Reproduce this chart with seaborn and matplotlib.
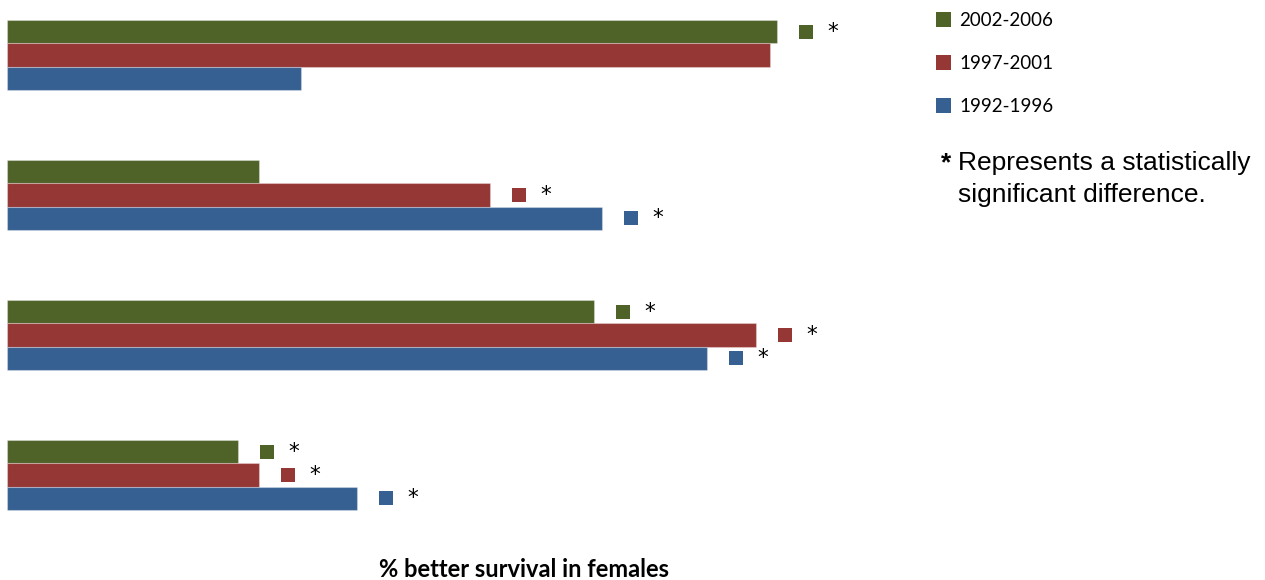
import matplotlib
matplotlib.use("Agg")
import matplotlib.pyplot as plt
from matplotlib.patches import Patch
import pandas as pd
import seaborn as sns

#%% data
groups  = ["Group A", "Group B", "Group C", "Group D"]
periods = ["2002-2006", "1997-2001", "1992-1996"]

val_0206 = [7.70, 2.52, 5.87, 2.31]
val_9701 = [7.63, 4.83, 7.49, 2.52]
val_9296 = [2.94, 5.95, 7.00, 3.50]

sig_0206 = [True, False, True, True]
sig_9701 = [False, True, True, True]
sig_9296 = [False, True, True, True]

colors = ["#4F6228", "#953735", "#376092"]

#%% long table for seaborn
vals = [val_0206, val_9701, val_9296]
sigs = [sig_0206, sig_9701, sig_9296]
rows = []
for p, v in zip(periods, vals):
    for g, x in zip(groups, v):
        rows.append({"group": g, "period": p, "value": x})
df = pd.DataFrame(rows)

#%% plot
sns.set_style("white")
plt.rcParams["text.color"] = "black"
W, H = 1265, 580
fig = plt.figure(figsize=(W/100, H/100), dpi=100)
ax = fig.add_axes([7/W, 40/H, 893/W, 540/H])

sns.barplot(data=df, x="value", y="group", hue="period",
            order=groups, hue_order=periods, palette=colors,
            saturation=1, width=0.5, orient="h", legend=False,
            edgecolor=(1, 1, 1, 0.3), linewidth=0.8, ax=ax)

# significance squares and asterisks after the bars
for i, cont in enumerate(ax.containers):
    for j, bar in enumerate(cont):
        if not sigs[i][j]:
            continue
        yc = bar.get_y() + bar.get_height()/2
        xe = bar.get_width()
        ax.scatter(xe + 0.29, yc, marker="s", s=110, color=colors[i],
                   linewidths=0, clip_on=False, zorder=3)
        ax.text(xe + 0.56, yc, "*", ha="center", va="center",
                fontsize=15.5, family="DejaVu Sans", color="black")

ax.set_xlim(0, 8.93)
ax.set_ylim(3 + 65/140, -55/140)
ax.axis("off")

# legend
handles = [Patch(facecolor=c, edgecolor="none") for c in colors]
fig.legend(handles, periods, loc="upper left",
           bbox_to_anchor=(936/W, 1 - 12/H), frameon=False,
           prop={"family": "Lato", "size": 13.5}, labelcolor="black",
           handlelength=0.8, handleheight=0.8, handletextpad=0.43,
           labelspacing=1.39, borderpad=0, borderaxespad=0)

# note
fig.text(946/W, 1 - 163/H, "*", ha="center", va="center", color="black",
         fontsize=19, family="Liberation Sans", fontweight="bold")
fig.text(958/W, 1 - 170/H, "Represents a statistically", color="black",
         va="baseline", fontsize=19, family="Liberation Sans")
fig.text(958/W, 1 - 202/H, "significant difference.", color="black",
         va="baseline", fontsize=19, family="Liberation Sans")

# axis title
fig.text(524/W, 1 - 577/H, "% better survival in females", color="black",
         ha="center", va="baseline", fontsize=17, family="Lato",
         fontweight="bold")

fig.savefig("out.png", dpi=100)
